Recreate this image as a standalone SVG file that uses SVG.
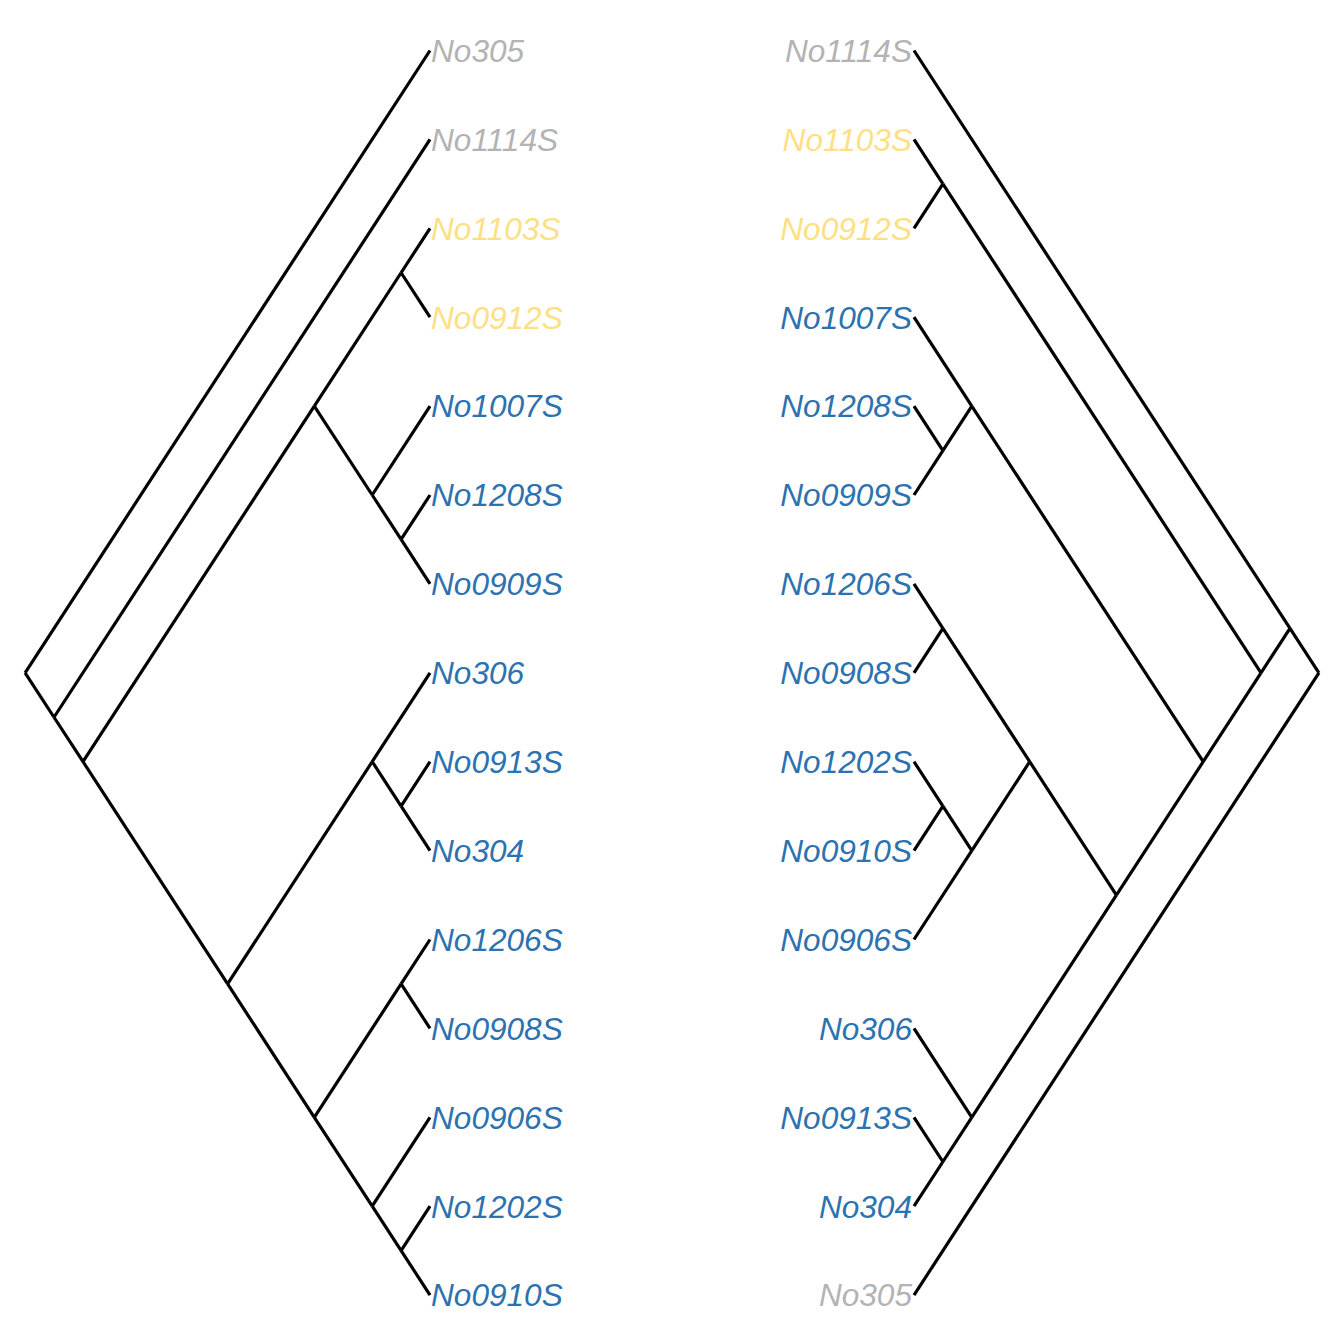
<svg xmlns="http://www.w3.org/2000/svg" width="1344" height="1344" viewBox="0 0 1344 1344">
<style>
.e{stroke:#000;stroke-width:3.2;fill:none;stroke-linecap:butt}
text{font-family:"Liberation Sans",Arial,sans-serif;font-style:italic;font-size:31.6px}
.l{text-anchor:start}
.r{text-anchor:end}
.g{fill:#B3B3B3}
.y{fill:#FEDF84}
.b{fill:#2C72B0}
</style>
<rect width="1344" height="1344" fill="#fff"/>
<g id="connectors">
<g id="left-tree">
<line class="e" x1="25.1" y1="672.8" x2="430" y2="50.5"/>
<line class="e" x1="25.1" y1="672.8" x2="54" y2="717.25"/>
<line class="e" x1="54" y1="717.25" x2="430" y2="139.4"/>
<line class="e" x1="54" y1="717.25" x2="83" y2="761.7"/>
<line class="e" x1="83" y1="761.7" x2="314.3" y2="406.1"/>
<line class="e" x1="83" y1="761.7" x2="227.6" y2="983.95"/>
<line class="e" x1="314.3" y1="406.1" x2="401.1" y2="272.75"/>
<line class="e" x1="401.1" y1="272.75" x2="430" y2="228.3"/>
<line class="e" x1="401.1" y1="272.75" x2="430" y2="317.2"/>
<line class="e" x1="314.3" y1="406.1" x2="372.2" y2="495"/>
<line class="e" x1="372.2" y1="495" x2="430" y2="406.1"/>
<line class="e" x1="372.2" y1="495" x2="401.1" y2="539.45"/>
<line class="e" x1="401.1" y1="539.45" x2="430" y2="495"/>
<line class="e" x1="401.1" y1="539.45" x2="430" y2="583.9"/>
<line class="e" x1="227.6" y1="983.95" x2="372.2" y2="761.7"/>
<line class="e" x1="372.2" y1="761.7" x2="430" y2="672.8"/>
<line class="e" x1="372.2" y1="761.7" x2="401.1" y2="806.15"/>
<line class="e" x1="401.1" y1="806.15" x2="430" y2="761.7"/>
<line class="e" x1="401.1" y1="806.15" x2="430" y2="850.6"/>
<line class="e" x1="227.6" y1="983.95" x2="314.3" y2="1117.3"/>
<line class="e" x1="314.3" y1="1117.3" x2="401.1" y2="983.95"/>
<line class="e" x1="401.1" y1="983.95" x2="430" y2="939.5"/>
<line class="e" x1="401.1" y1="983.95" x2="430" y2="1028.4"/>
<line class="e" x1="314.3" y1="1117.3" x2="372.2" y2="1206.2"/>
<line class="e" x1="372.2" y1="1206.2" x2="430" y2="1117.3"/>
<line class="e" x1="372.2" y1="1206.2" x2="401.1" y2="1250.65"/>
<line class="e" x1="401.1" y1="1250.65" x2="430" y2="1206.2"/>
<line class="e" x1="401.1" y1="1250.65" x2="430" y2="1295.1"/>
</g>
<g id="right-tree">
<line class="e" x1="1318.9" y1="672.8" x2="914" y2="1295.1"/>
<line class="e" x1="1318.9" y1="672.8" x2="1290" y2="628.35"/>
<line class="e" x1="1290" y1="628.35" x2="914" y2="50.5"/>
<line class="e" x1="1290" y1="628.35" x2="1261" y2="672.8"/>
<line class="e" x1="1261" y1="672.8" x2="942.9" y2="183.85"/>
<line class="e" x1="942.9" y1="183.85" x2="914" y2="139.4"/>
<line class="e" x1="942.9" y1="183.85" x2="914" y2="228.3"/>
<line class="e" x1="1261" y1="672.8" x2="1203.2" y2="761.7"/>
<line class="e" x1="1203.2" y1="761.7" x2="971.8" y2="406.1"/>
<line class="e" x1="971.8" y1="406.1" x2="914" y2="317.2"/>
<line class="e" x1="971.8" y1="406.1" x2="942.9" y2="450.55"/>
<line class="e" x1="942.9" y1="450.55" x2="914" y2="406.1"/>
<line class="e" x1="942.9" y1="450.55" x2="914" y2="495"/>
<line class="e" x1="1203.2" y1="761.7" x2="1116.4" y2="895.05"/>
<line class="e" x1="1116.4" y1="895.05" x2="1029.7" y2="761.7"/>
<line class="e" x1="1029.7" y1="761.7" x2="942.9" y2="628.35"/>
<line class="e" x1="942.9" y1="628.35" x2="914" y2="583.9"/>
<line class="e" x1="942.9" y1="628.35" x2="914" y2="672.8"/>
<line class="e" x1="1029.7" y1="761.7" x2="971.8" y2="850.6"/>
<line class="e" x1="971.8" y1="850.6" x2="942.9" y2="806.15"/>
<line class="e" x1="942.9" y1="806.15" x2="914" y2="761.7"/>
<line class="e" x1="942.9" y1="806.15" x2="914" y2="850.6"/>
<line class="e" x1="971.8" y1="850.6" x2="914" y2="939.5"/>
<line class="e" x1="1116.4" y1="895.05" x2="971.8" y2="1117.3"/>
<line class="e" x1="971.8" y1="1117.3" x2="914" y2="1028.4"/>
<line class="e" x1="971.8" y1="1117.3" x2="942.9" y2="1161.75"/>
<line class="e" x1="942.9" y1="1161.75" x2="914" y2="1117.3"/>
<line class="e" x1="942.9" y1="1161.75" x2="914" y2="1206.2"/>
</g>
</g>
<g id="left-labels">
<g id="L-No305"><text class="l g" x="431" y="61.8">No305</text></g>
<g id="L-No1114S"><text class="l g" x="431" y="150.7">No1114S</text></g>
<g id="L-No1103S"><text class="l y" x="431" y="239.6">No1103S</text></g>
<g id="L-No0912S"><text class="l y" x="431" y="328.5">No0912S</text></g>
<g id="L-No1007S"><text class="l b" x="431" y="417.4">No1007S</text></g>
<g id="L-No1208S"><text class="l b" x="431" y="506.3">No1208S</text></g>
<g id="L-No0909S"><text class="l b" x="431" y="595.2">No0909S</text></g>
<g id="L-No306"><text class="l b" x="431" y="684.1">No306</text></g>
<g id="L-No0913S"><text class="l b" x="431" y="773">No0913S</text></g>
<g id="L-No304"><text class="l b" x="431" y="861.9">No304</text></g>
<g id="L-No1206S"><text class="l b" x="431" y="950.8">No1206S</text></g>
<g id="L-No0908S"><text class="l b" x="431" y="1039.7">No0908S</text></g>
<g id="L-No0906S"><text class="l b" x="431" y="1128.6">No0906S</text></g>
<g id="L-No1202S"><text class="l b" x="431" y="1217.5">No1202S</text></g>
<g id="L-No0910S"><text class="l b" x="431" y="1306.4">No0910S</text></g>
</g>
<g id="right-labels">
<g id="R-No1114S"><text class="r g" x="912" y="61.8">No1114S</text></g>
<g id="R-No1103S"><text class="r y" x="912" y="150.7">No1103S</text></g>
<g id="R-No0912S"><text class="r y" x="912" y="239.6">No0912S</text></g>
<g id="R-No1007S"><text class="r b" x="912" y="328.5">No1007S</text></g>
<g id="R-No1208S"><text class="r b" x="912" y="417.4">No1208S</text></g>
<g id="R-No0909S"><text class="r b" x="912" y="506.3">No0909S</text></g>
<g id="R-No1206S"><text class="r b" x="912" y="595.2">No1206S</text></g>
<g id="R-No0908S"><text class="r b" x="912" y="684.1">No0908S</text></g>
<g id="R-No1202S"><text class="r b" x="912" y="773">No1202S</text></g>
<g id="R-No0910S"><text class="r b" x="912" y="861.9">No0910S</text></g>
<g id="R-No0906S"><text class="r b" x="912" y="950.8">No0906S</text></g>
<g id="R-No306"><text class="r b" x="912" y="1039.7">No306</text></g>
<g id="R-No0913S"><text class="r b" x="912" y="1128.6">No0913S</text></g>
<g id="R-No304"><text class="r b" x="912" y="1217.5">No304</text></g>
<g id="R-No305"><text class="r g" x="912" y="1306.4">No305</text></g>
</g>
</svg>
